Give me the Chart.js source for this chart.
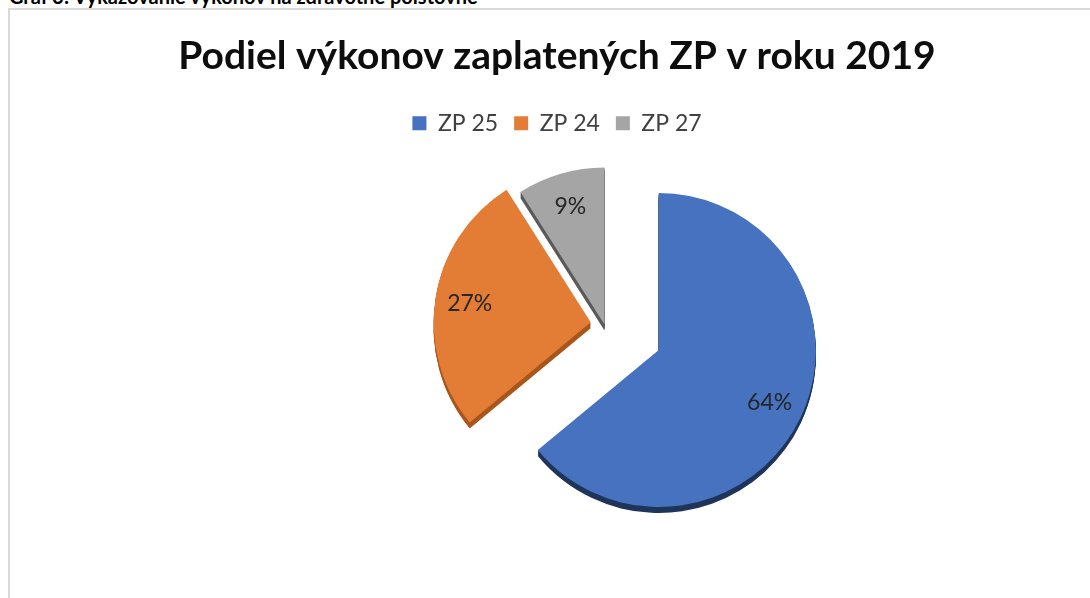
<!DOCTYPE html>
<html><head><meta charset="utf-8">
<script src="https://cdn.jsdelivr.net/npm/chart.js@4.4.1/dist/chart.umd.min.js"></script>
<style>
html,body{margin:0;padding:0;width:1090px;height:598px;overflow:hidden;background:#fff;}
#caption{position:absolute;left:9px;top:-14px;font:bold 20px Lato;line-height:20px;color:#000;white-space:nowrap;}
#frame{position:absolute;left:8px;top:8px;width:1200px;height:800px;border:2px solid #d9d9d9;box-sizing:border-box;}
#wrap{position:absolute;left:10px;top:10px;width:1094px;height:588px;}
</style></head><body>
<div id="caption">Graf 3: Vykazovanie výkonov na zdravotné poisťovne</div>
<div id="frame"></div>
<div id="wrap"><canvas id="c"></canvas></div>
<script>
// ---- data ----
const categories = ['ZP 25', 'ZP 24', 'ZP 27'];
const shares = [64, 27, 9];
const chartTitle = 'Podiel výkonov zaplatených ZP v roku 2019';

// ---- style ----
const colors = ['#4672C0', '#E37C35', '#A5A5A5'];
const sideColors = ['#1F3459', '#A9561D', '#5A5A5A'];
const explode = [60, 14, 0];          // px each slice is pulled out along its mid-angle
const DEPTH = 6;                      // extrusion depth (px)
const PIE = {cx: 594.5, cy: 314.5, r: 157}; // pie layout inside canvas
const LABEL_POS = 0.78;

Chart.defaults.font.family = 'Lato';

const pieArea = {
  id: 'pieArea',
  afterLayout(chart) {
    chart.chartArea = {
      left: PIE.cx - PIE.r, right: PIE.cx + PIE.r,
      top: PIE.cy - PIE.r, bottom: PIE.cy + PIE.r,
      width: 2 * PIE.r, height: 2 * PIE.r
    };
  }
};

const explodePlugin = {
  id: 'explode',
  afterDatasetUpdate(chart, args) {
    const meta = chart.getDatasetMeta(args.index);
    meta.data.forEach((arc, i) => {
      const mid = (arc.startAngle + arc.endAngle) / 2;
      arc.x += explode[i] * Math.cos(mid);
      arc.y += explode[i] * Math.sin(mid);
    });
  }
};

const extrude = {
  id: 'extrude',
  beforeDatasetsDraw(chart) {
    const ctx = chart.ctx;
    const meta = chart.getDatasetMeta(0);
    meta.data.forEach((arc, i) => {
      const fake = Object.create(arc);
      fake.options = Object.assign({}, arc.options, {backgroundColor: sideColors[i], borderColor: sideColors[i], borderWidth: 0});
      for (let k = 1; k <= DEPTH; k++) {
        ctx.save();
        ctx.translate(0, k);
        fake.draw(ctx);
        ctx.restore();
      }
    });
  }
};

const pctLabels = {
  id: 'pctLabels',
  afterDatasetsDraw(chart) {
    const ctx = chart.ctx;
    const meta = chart.getDatasetMeta(0);
    const data = chart.data.datasets[0].data;
    const total = data.reduce((a, b) => a + b, 0);
    ctx.save();
    ctx.font = '23px Lato';
    ctx.fillStyle = '#262626';
    ctx.textAlign = 'center';
    ctx.textBaseline = 'middle';
    meta.data.forEach((arc, i) => {
      const mid = (arc.startAngle + arc.endAngle) / 2;
      const rr = arc.outerRadius * LABEL_POS;
      ctx.fillText(Math.round(data[i] / total * 100) + '%', arc.x + Math.cos(mid) * rr, arc.y + Math.sin(mid) * rr);
    });
    ctx.restore();
  }
};

function draw() {
  new Chart(document.getElementById('c'), {
    type: 'pie',
    data: {
      labels: categories,
      datasets: [{
        data: shares,
        backgroundColor: colors,
        borderWidth: 0,
        offset: 0,
        hoverOffset: 0,
        clip: false
      }]
    },
    options: {
      responsive: true,
      maintainAspectRatio: false,
      animation: false,
      events: [],
      plugins: {
        title: {
          display: true,
          text: chartTitle,
          color: '#0d0d0d',
          font: {size: 39, weight: 'bold', family: 'Lato'},
          padding: {top: 23, bottom: 16}
        },
        legend: {
          position: 'top',
          labels: {
            boxWidth: 14, boxHeight: 14, padding: 16,
            color: '#404040',
            font: {size: 23, family: 'Lato'}
          }
        },
        tooltip: {enabled: false}
      }
    },
    plugins: [pieArea, explodePlugin, extrude, pctLabels]
  });
}
Promise.all([
  document.fonts.load('bold 39px Lato'),
  document.fonts.load('23px Lato')
]).then(draw, draw);
</script>
</body></html>
